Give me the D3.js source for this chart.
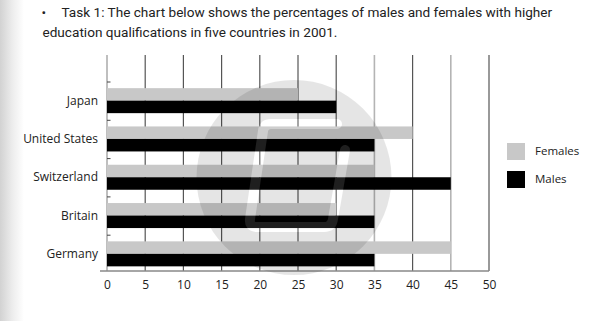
<!DOCTYPE html>
<html>
<head>
<meta charset="utf-8">
<script src="https://cdn.jsdelivr.net/npm/d3@7"></script>
<style>
html,body{margin:0;padding:0;background:#fff;}
svg{display:block;}
</style>
</head>
<body>
<script>
// ---- data ----
const titleLines = [
  "Task 1: The chart below shows the percentages of males and females with higher",
  "education qualifications in five countries in 2001."
];
const countries = ["Japan", "United States", "Switzerland", "Britain", "Germany"];
const females = [25, 40, 35, 30, 45];
const males = [30, 35, 45, 35, 35];
const seriesNames = ["Females", "Males"];
const xTicks = [0, 5, 10, 15, 20, 25, 30, 35, 40, 45, 50];

// ---- layout ----
const W = 590, H = 321;
const svg = d3.select("body").append("svg").attr("width", W).attr("height", H);

const defs = svg.append("defs");
const grad = defs.append("linearGradient").attr("id", "edge").attr("x1", 0).attr("x2", 1).attr("y1", 0).attr("y2", 0);
grad.append("stop").attr("offset", 0).attr("stop-color", "#d2d2d2");
grad.append("stop").attr("offset", 0.5).attr("stop-color", "#ececec");
grad.append("stop").attr("offset", 1).attr("stop-color", "#ffffff");
svg.append("rect").attr("x", 0).attr("y", 0).attr("width", W).attr("height", H).attr("fill", "#fff");
svg.append("rect").attr("x", 0).attr("y", 0).attr("width", 24).attr("height", H).attr("fill", "url(#edge)");

// title
const title = svg.append("g").attr("font-family", "Roboto, sans-serif").attr("font-size", 13.6).attr("fill", "#222");
title.append("text").attr("x", 41.5).attr("y", 17).text("\u2022");
title.append("text").attr("x", 61.5).attr("y", 17).text(titleLines[0]);
title.append("text").attr("x", 42.5).attr("y", 37).text(titleLines[1]);

const x = d3.scaleLinear().domain([0, 50]).range([107, 489]);
const y = d3.scaleBand().domain(countries).range([81.5, 273]).padding(0);
const gridTop = 55, axisY = 271;

const lightTicks = [35, 45];
// grid lines
svg.append("g").selectAll("line").data(xTicks.slice(1)).join("line")
  .attr("x1", d => x(d)).attr("x2", d => x(d))
  .attr("y1", gridTop).attr("y2", axisY)
  .attr("stroke", d => lightTicks.includes(d) ? "#b4b4b4" : "#555")
  .attr("stroke-width", d => lightTicks.includes(d) ? 1.6 : 1.2);

// y axis line
svg.append("line").attr("x1", x(0)).attr("x2", x(0)).attr("y1", gridTop).attr("y2", axisY)
  .attr("stroke", "#aaa").attr("stroke-width", 1.5);
// small band ticks
svg.append("g").selectAll("line").data(countries).join("line")
  .attr("x1", x(0)).attr("x2", x(0) + 3.5)
  .attr("y1", d => y(d) + 0.5).attr("y2", d => y(d) + 0.5)
  .attr("stroke", "#444").attr("stroke-width", 1);

// bars
const bw = y.bandwidth();
const barH = 12.5;
svg.append("g").selectAll("rect").data(countries).join("rect")
  .attr("x", x(0)).attr("y", d => y(d) + bw / 2 - barH)
  .attr("width", (d, i) => x(females[i]) - x(0)).attr("height", barH)
  .attr("fill", "#c8c8c8");
svg.append("g").selectAll("rect").data(countries).join("rect")
  .attr("x", x(0)).attr("y", d => y(d) + bw / 2)
  .attr("width", (d, i) => x(males[i]) - x(0)).attr("height", barH)
  .attr("fill", "#000");

// x axis line
svg.append("line").attr("x1", 100).attr("x2", x(50)).attr("y1", axisY).attr("y2", axisY)
  .attr("stroke", "#888").attr("stroke-width", 1.3);

// x tick labels
const xAxis = d3.axisBottom(x).tickValues(xTicks).tickSize(0).tickPadding(0).tickFormat(d3.format("d"));
const gx = svg.append("g").attr("transform", `translate(0,${axisY})`).call(xAxis);
gx.select(".domain").remove();
gx.selectAll("text").attr("font-family", "'Open Sans', sans-serif").attr("font-size", 12)
  .attr("fill", "#222").attr("dy", 0).attr("y", 18);

// category labels
svg.append("g").selectAll("text").data(countries).join("text")
  .attr("x", 98).attr("y", d => y(d) + bw / 2 + 4)
  .attr("text-anchor", "end")
  .attr("font-family", "'Open Sans', sans-serif").attr("font-size", 12)
  .attr("fill", "#222").text(d => d);

// legend
const legendColors = ["#c8c8c8", "#000"];
const lg = svg.append("g");
lg.selectAll("rect").data(seriesNames).join("rect")
  .attr("x", 507).attr("y", (d, i) => 143 + i * 28)
  .attr("width", 18).attr("height", 17)
  .attr("fill", (d, i) => legendColors[i]);
lg.selectAll("text").data(seriesNames).join("text")
  .attr("x", 535).attr("y", (d, i) => 155 + i * 28)
  .attr("font-family", "'Open Sans', sans-serif").attr("font-size", 11.5)
  .attr("fill", "#222").text(d => d);

// watermark
const logoPath = "M 337,124 L 271,124 Q 264,124 263,131 L 250,219 Q 249,227 257,227 L 324,227 Q 332,227 333,219 L 345,150";
const mask = defs.append("mask").attr("id", "wm");
mask.append("rect").attr("x", 0).attr("y", 0).attr("width", W).attr("height", H).attr("fill", "#fff");
mask.append("path").attr("d", logoPath).attr("fill", "none").attr("stroke", "#000")
  .attr("stroke-width", 10).attr("stroke-linecap", "round").attr("stroke-linejoin", "round");
svg.append("circle").attr("cx", 294).attr("cy", 177.5).attr("r", 97.5)
  .attr("fill", "#000").attr("fill-opacity", 0.1).attr("mask", "url(#wm)");
svg.append("path").attr("d", logoPath).attr("fill", "none").attr("stroke", "#fff").attr("stroke-opacity", 0.12)
  .attr("stroke-width", 10).attr("stroke-linecap", "round").attr("stroke-linejoin", "round");
</script>
</body>
</html>
